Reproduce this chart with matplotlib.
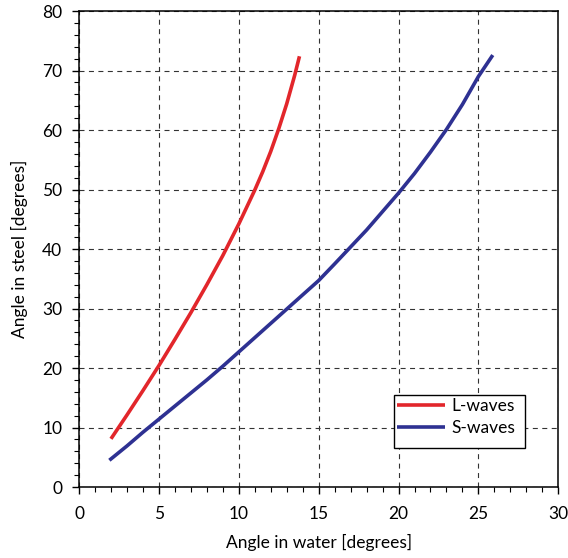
import matplotlib
matplotlib.use('Agg')
import matplotlib.pyplot as plt
from matplotlib.ticker import MultipleLocator
from matplotlib.patches import Rectangle

plt.rcParams['font.family'] = ['Lato', 'DejaVu Sans']

# L-waves
water_L = [2, 3, 4, 5, 6, 7, 8, 9, 10, 11, 11.5, 12, 12.5, 13, 13.5, 13.8]
steel_L = [8.1, 12.1, 16.2, 20.4, 24.8, 29.3, 34.0, 38.9, 44.2, 49.9, 53.0, 56.4, 60.2, 64.4, 69.2, 72.4]

# S-waves
water_S = [1.9, 3, 4, 5, 6, 7, 8, 9, 10, 12, 14, 15, 16, 18, 20, 21, 22, 23, 24, 25, 25.9]
steel_S = [4.5, 6.9, 9.2, 11.4, 13.6, 15.8, 18.0, 20.3, 22.7, 27.5, 32.3, 34.7, 37.5,
           43.2, 49.4, 52.7, 56.3, 60.1, 64.3, 69.0, 72.6]

fig = plt.figure(figsize=(5.68, 5.58), dpi=100)
ax = fig.add_axes([0.1391, 0.1272, 0.8438, 0.853])

ax.plot(water_L, steel_L, color='#e2262b', lw=2.6, label='L-waves', solid_capstyle='butt')
ax.plot(water_S, steel_S, color='#2e3192', lw=2.6, label='S-waves', solid_capstyle='butt')

ax.set_xlim(0, 30)
ax.set_ylim(0, 80)
ax.xaxis.set_major_locator(MultipleLocator(5))
ax.xaxis.set_minor_locator(MultipleLocator(1))
ax.yaxis.set_major_locator(MultipleLocator(10))
ax.yaxis.set_minor_locator(MultipleLocator(2))
ax.tick_params(which='major', length=5, width=1, labelsize=12.5, pad=7, direction='out')
ax.tick_params(axis='x', which='major', pad=9)
ax.tick_params(which='minor', length=3.5, width=0.8, direction='out')
for s in ax.spines.values():
    s.set_linewidth(1.1)

ax.grid(True, which='major', color='#333333', linestyle=(0, (4.5, 4)), lw=0.8)
ax.set_axisbelow(True)

ax.set_xlabel('Angle in water [degrees]', fontsize=12.5, labelpad=8)
ax.set_ylabel('Angle in steel [degrees]', fontsize=12.5, labelpad=10)

# legend box drawn by hand, entries placed inside it
ax.add_patch(Rectangle((0.6576, 0.0826), 0.2721, 0.1107, transform=ax.transAxes,
                       facecolor='white', edgecolor='black', lw=1.0, zorder=4))
leg = ax.legend(loc='upper left', bbox_to_anchor=(0.6576, 0.1933), fontsize=12.5,
                frameon=False, handlelength=2.75, handletextpad=0.4,
                borderpad=0.15, labelspacing=0.35, borderaxespad=0)
leg.set_zorder(5)

fig.savefig('out.png', dpi=100)
